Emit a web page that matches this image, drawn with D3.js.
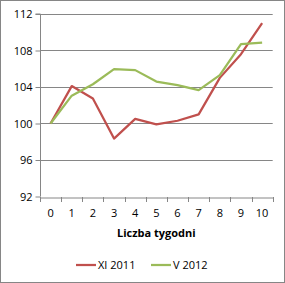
<!DOCTYPE html>
<html><head><meta charset="utf-8">
<script src="https://cdn.jsdelivr.net/npm/d3@7"></script>
<style>body{margin:0;background:#fff}svg{display:block}</style>
</head><body>
<script>
const categories = ["0","1","2","3","4","5","6","7","8","9","10"];
const seriesNames = ["XI 2011","V 2012"];
const xi2011 = [100,104.1,102.75,98.35,100.5,99.9,100.3,101.0,105.0,107.6,111.0];
const v2012 = [100,103.05,104.3,105.95,105.85,104.6,104.2,103.65,105.3,108.7,108.85];
const yTicks = [92,96,100,104,108,112];
const colors = ["#C0504D","#9BBB59"];

(function(){
const W=285,H=283;
const svg=d3.select("body").append("svg").attr("width",W).attr("height",H);
svg.append("rect").attr("x",0.5).attr("y",0.5).attr("width",W-1).attr("height",H-1).attr("fill","#fff").attr("stroke","#868686");

const mLeft=40,mRight=272.7,mTop=14,mBottom=196.5;
const x=d3.scaleBand().domain(categories).range([mLeft,mRight]);
const y=d3.scaleLinear().domain([92,112]).range([mBottom,mTop]);
const font="Open Sans, sans-serif";

// gridlines
svg.append("g").selectAll("line").data(yTicks.slice(1)).join("line")
  .attr("x1",mLeft).attr("x2",mRight).attr("y1",d=>Math.round(y(d))+0.5).attr("y2",d=>Math.round(y(d))+0.5)
  .attr("stroke","#868686").attr("stroke-width",1);

// y axis
const ya=svg.append("g").attr("transform",`translate(${mLeft+0.5},0)`)
  .call(d3.axisLeft(y).tickValues(yTicks).tickSize(5).tickPadding(3));
ya.select(".domain").attr("stroke","#868686").attr("d",`M-5,${y(112)}H0V${y(92)}`);
ya.selectAll(".tick line").attr("stroke","#868686");
ya.selectAll("text").attr("font-family",font).attr("font-size",11).attr("fill","#000");

// x axis
const xa=svg.append("g").attr("transform",`translate(0,${Math.round(mBottom)+0.5})`)
  .call(d3.axisBottom(x).tickSize(0).tickPadding(12));
xa.select(".domain").attr("stroke","#868686");
xa.selectAll("text").attr("font-family",font).attr("font-size",11).attr("fill","#000");
svg.append("g").selectAll("line").data(categories.map((c,i)=>i).concat([categories.length]))
  .join("line")
  .attr("x1",i=>Math.round(mLeft+i*x.step())+0.5).attr("x2",i=>Math.round(mLeft+i*x.step())+0.5)
  .attr("y1",Math.round(mBottom)).attr("y2",Math.round(mBottom)+5)
  .attr("stroke","#868686");

svg.append("text").attr("x",(mLeft+mRight)/2).attr("y",237).attr("text-anchor","middle")
  .attr("font-family",font).attr("font-size",11).attr("font-weight","bold").text("Liczba tygodni");

const line=d3.line().x((d,i)=>x(categories[i])+x.bandwidth()/2).y(d=>y(d));
[xi2011,v2012].forEach((s,k)=>{
  svg.append("path").datum(s).attr("d",line).attr("fill","none")
    .attr("stroke",colors[k]).attr("stroke-width",2.25).attr("stroke-linejoin","round");
});

// legend
const lg=[{x:76},{x:151}];
seriesNames.forEach((n,k)=>{
  const g=svg.append("g");
  g.append("line").attr("x1",lg[k].x).attr("x2",lg[k].x+20).attr("y1",265).attr("y2",265)
    .attr("stroke",colors[k]).attr("stroke-width",2.25);
  g.append("text").attr("x",lg[k].x+22).attr("y",269).attr("font-family",font).attr("font-size",11).text(n);
});
})();
</script>
</body></html>
